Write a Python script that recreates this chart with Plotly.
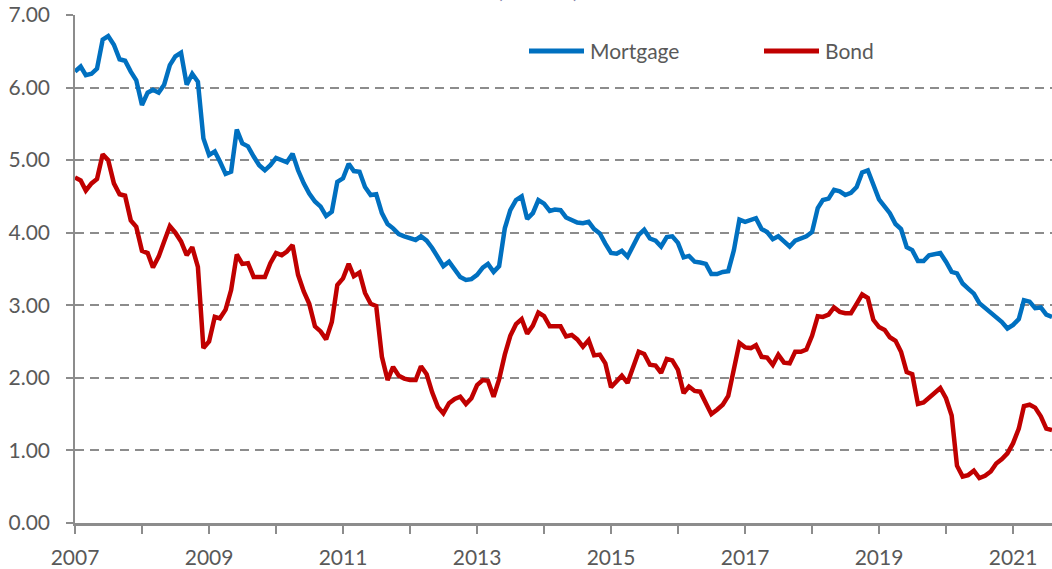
import pandas as pd
import plotly.graph_objects as go

# Monthly observations, Jan 2007 .. Aug 2021
dates = pd.date_range("2007-01-01", "2021-08-01", freq="MS")

mortgage = [
    6.22, 6.29, 6.17, 6.19, 6.26, 6.66, 6.71, 6.59, 6.39, 6.37, 6.22, 6.10,
    5.76, 5.93, 5.97, 5.93, 6.04, 6.31, 6.43, 6.48, 6.04, 6.19, 6.08, 5.30,
    5.07, 5.12, 4.98, 4.81, 4.84, 5.42, 5.23, 5.19, 5.05, 4.93, 4.86, 4.93,
    5.03, 4.99, 4.97, 5.09, 4.86, 4.68, 4.54, 4.43, 4.36, 4.23, 4.29, 4.70,
    4.75, 4.95, 4.85, 4.84, 4.63, 4.52, 4.53, 4.27, 4.12, 4.06, 3.98, 3.95,
    3.92, 3.90, 3.95, 3.89, 3.79, 3.67, 3.54, 3.60, 3.49, 3.39, 3.35, 3.36,
    3.42, 3.52, 3.57, 3.46, 3.54, 4.06, 4.31, 4.45, 4.50, 4.19, 4.27, 4.45,
    4.40, 4.30, 4.32, 4.31, 4.21, 4.17, 4.14, 4.13, 4.15, 4.05, 3.99, 3.85,
    3.72, 3.71, 3.75, 3.67, 3.83, 3.97, 4.04, 3.92, 3.89, 3.81, 3.94, 3.95,
    3.86, 3.66, 3.68, 3.60, 3.59, 3.57, 3.43, 3.43, 3.46, 3.47, 3.76, 4.18,
    4.15, 4.17, 4.20, 4.05, 4.01, 3.91, 3.95, 3.88, 3.81, 3.89, 3.92, 3.95,
    4.01, 4.34, 4.45, 4.47, 4.59, 4.57, 4.52, 4.55, 4.63, 4.83, 4.86, 4.66,
    4.46, 4.36, 4.27, 4.12, 4.05, 3.80, 3.76, 3.61, 3.61, 3.69, 3.71, 3.72,
    3.60, 3.46, 3.44, 3.30, 3.23, 3.16, 3.03, 2.96, 2.90, 2.84, 2.77, 2.68,
    2.73, 2.81, 3.07, 3.05, 2.96, 2.97, 2.87, 2.84,
]

bond = [
    4.76, 4.72, 4.58, 4.68, 4.74, 5.08, 5.00, 4.68, 4.53, 4.51, 4.17, 4.08,
    3.75, 3.72, 3.52, 3.67, 3.88, 4.09, 4.00, 3.88, 3.69, 3.80, 3.53, 2.41,
    2.50, 2.84, 2.82, 2.94, 3.21, 3.70, 3.57, 3.58, 3.39, 3.39, 3.39, 3.58,
    3.72, 3.69, 3.74, 3.83, 3.42, 3.19, 3.02, 2.71, 2.64, 2.53, 2.77, 3.28,
    3.37, 3.57, 3.40, 3.45, 3.17, 3.02, 2.99, 2.29, 1.97, 2.15, 2.03, 1.99,
    1.97, 1.97, 2.16, 2.05, 1.80, 1.60, 1.51, 1.65, 1.71, 1.74, 1.64, 1.72,
    1.90, 1.97, 1.96, 1.74, 1.98, 2.32, 2.58, 2.74, 2.81, 2.61, 2.72, 2.90,
    2.85, 2.71, 2.71, 2.71, 2.57, 2.59, 2.53, 2.43, 2.52, 2.31, 2.32, 2.20,
    1.87, 1.95, 2.03, 1.93, 2.15, 2.36, 2.33, 2.18, 2.17, 2.07, 2.26, 2.24,
    2.11, 1.79, 1.88, 1.82, 1.81, 1.66, 1.50, 1.56, 1.63, 1.75, 2.15, 2.48,
    2.42, 2.41, 2.45, 2.29, 2.28, 2.18, 2.32, 2.21, 2.20, 2.36, 2.36, 2.39,
    2.58, 2.85, 2.84, 2.87, 2.97, 2.91, 2.89, 2.89, 3.02, 3.15, 3.10, 2.80,
    2.70, 2.66, 2.56, 2.51, 2.36, 2.08, 2.05, 1.64, 1.66, 1.72, 1.80, 1.86,
    1.72, 1.48, 0.79, 0.64, 0.66, 0.72, 0.62, 0.65, 0.71, 0.82, 0.88, 0.96,
    1.10, 1.30, 1.61, 1.63, 1.59, 1.47, 1.30, 1.28,
]

y_ticks = [0, 1, 2, 3, 4, 5, 6, 7]
y_labels = ["0.00", "1.00", "2.00", "3.00", "4.00", "5.00", "6.00", "7.00"]
x_tick_years = ["2007", "2009", "2011", "2013", "2015", "2017", "2019", "2021"]

BLUE = "#0070C0"
RED = "#C00000"
GRID = "#8C8C8C"
TEXT = "#595959"
FONT = "Lato"

W, H = 1052, 569
L, R, T, B = 75, 0, 15, 46
pw, ph = W - L - R, H - T - B


def px(xp):
    return (xp - L) / pw


def py(yp):
    return (H - B - yp) / ph


fig = go.Figure()
fig.add_trace(go.Scatter(x=dates, y=mortgage, mode="lines", name="Mortgage",
                         line=dict(color=BLUE, width=4.5), showlegend=False))
fig.add_trace(go.Scatter(x=dates, y=bond, mode="lines", name="Bond",
                         line=dict(color=RED, width=4.5), showlegend=False))

# manual legend
shapes = []
annotations = []
for name, color, x0 in [("Mortgage", BLUE, 529), ("Bond", RED, 764)]:
    shapes.append(dict(type="line", xref="paper", yref="paper",
                       x0=px(x0), x1=px(x0 + 55), y0=py(51), y1=py(51),
                       line=dict(color=color, width=5)))
    annotations.append(dict(text=name, xref="paper", yref="paper",
                            x=px(x0 + 59), y=py(51), xanchor="left", yanchor="middle",
                            showarrow=False, font=dict(family=FONT, size=21, color=TEXT)))

# partially visible title line at the very top
annotations.append(dict(text="(Percent)", xref="paper", yref="paper",
                        x=px(538), y=py(4), xanchor="center", yanchor="bottom",
                        showarrow=False,
                        font=dict(family=FONT, size=21, color="#7F7FA8")))

fig.update_layout(
    width=W, height=H,
    margin=dict(l=L, r=R, t=T, b=B, pad=0),
    paper_bgcolor="white", plot_bgcolor="white",
    font=dict(family=FONT, size=21, color=TEXT),
    shapes=shapes, annotations=annotations,
    xaxis=dict(
        type="date",
        range=["2007-01-01", "2021-08-01"],
        tickmode="array",
        tickvals=[f"{y}-01-01" for y in x_tick_years],
        ticktext=x_tick_years,
        ticks="outside", ticklen=8, tickwidth=1.5, tickcolor=GRID,
        minor=dict(dtick="M12", tick0="2007-01-01", ticks="outside",
                   ticklen=8, tickwidth=1.5, tickcolor=GRID, showgrid=False),
        showgrid=False,
        showline=True, linecolor=GRID, linewidth=2.5,
        ticklabelstandoff=6,
        tickfont=dict(family=FONT, size=21, color=TEXT),
        zeroline=False,
    ),
    yaxis=dict(
        range=[0, 7],
        tickmode="array", tickvals=y_ticks, ticktext=y_labels,
        ticks="outside", ticklen=7, tickwidth=1.5, tickcolor=GRID,
        showgrid=True, gridcolor=GRID, gridwidth=2, griddash="9px,6px",
        showline=True, linecolor=GRID, linewidth=1.5,
        zeroline=False,
        ticklabelstandoff=12,
        tickfont=dict(family=FONT, size=21, color=TEXT),
    ),
)

fig.write_html("out.html")
